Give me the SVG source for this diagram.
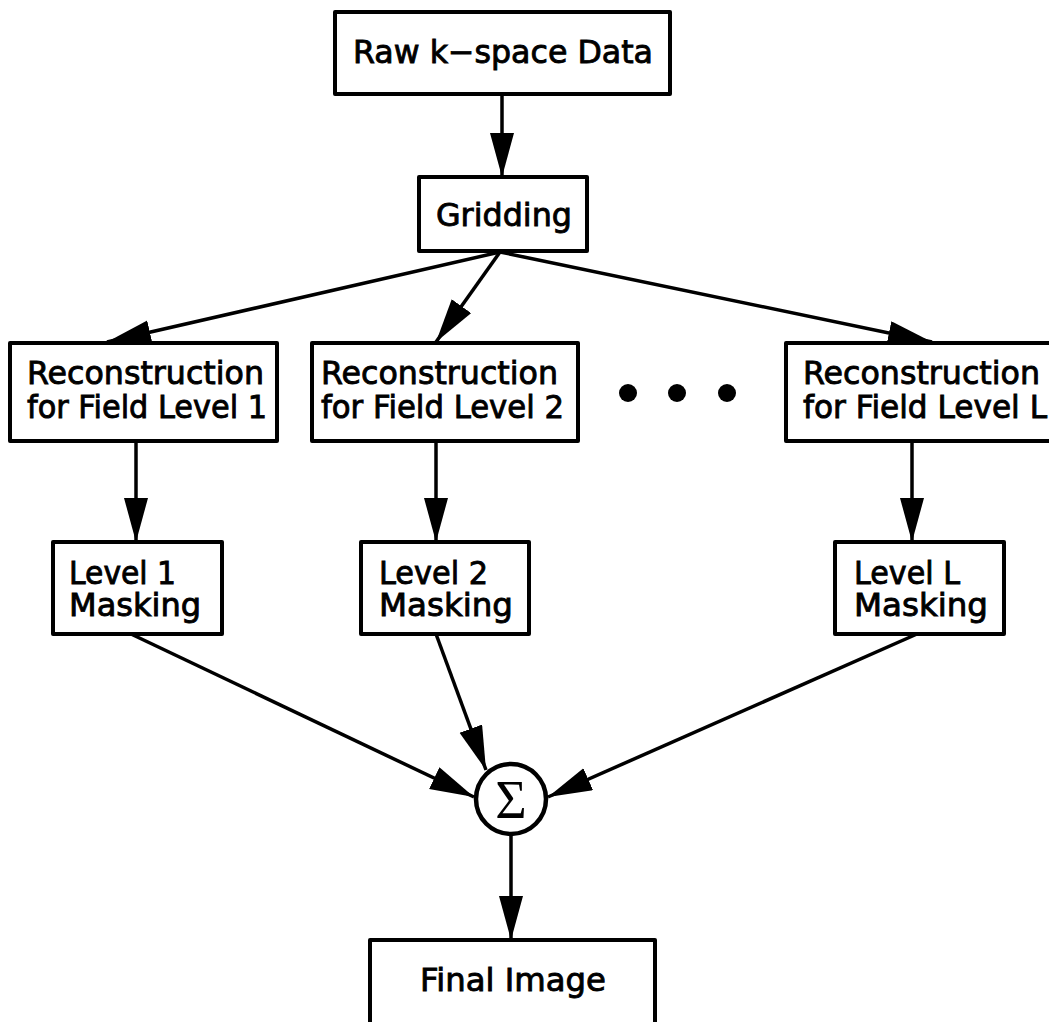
<svg xmlns="http://www.w3.org/2000/svg" width="1049" height="1022" viewBox="0 0 1049 1022">
<style>
.box{fill:#fff;stroke:#000;stroke-width:4;stroke-linejoin:round}
.t{font-family:"DejaVu Sans","Liberation Sans",sans-serif;font-size:32px;fill:#000;stroke:#000;stroke-width:0.9}
.c{text-anchor:middle}
.e{stroke:#000;stroke-width:3.5;fill:none}
</style>
<defs>
<marker id="ah" markerUnits="userSpaceOnUse" markerWidth="46" markerHeight="26" refX="44" refY="12" orient="auto">
<path d="M0,0 L44,12 L0,24 Z" fill="#000"/>
</marker>
</defs>
<g id="connectors">
<line class="e" x1="502" y1="94" x2="502" y2="177" marker-end="url(#ah)"/>
<line class="e" x1="500" y1="252" x2="107" y2="342" marker-end="url(#ah)"/>
<line class="e" x1="500" y1="252" x2="436" y2="342" marker-end="url(#ah)"/>
<line class="e" x1="500" y1="252" x2="932" y2="342" marker-end="url(#ah)"/>
<line class="e" x1="136" y1="442" x2="136" y2="542" marker-end="url(#ah)"/>
<line class="e" x1="436" y1="442" x2="436" y2="542" marker-end="url(#ah)"/>
<line class="e" x1="912" y1="442" x2="912" y2="542" marker-end="url(#ah)"/>
<line class="e" x1="131" y1="634" x2="474" y2="797" marker-end="url(#ah)"/>
<line class="e" x1="436" y1="634" x2="486" y2="770" marker-end="url(#ah)"/>
<line class="e" x1="917" y1="634" x2="548" y2="797" marker-end="url(#ah)"/>
<line class="e" x1="511" y1="835" x2="511" y2="940" marker-end="url(#ah)"/>
</g>
<g id="raw">
<rect class="box" x="335" y="12" width="335" height="82"/>
<text class="t c" x="503" y="63" textLength="300" lengthAdjust="spacingAndGlyphs">Raw k−space Data</text>
</g>
<g id="gridding">
<rect class="box" x="419" y="177" width="168" height="74"/>
<text class="t c" x="504" y="226" textLength="136" lengthAdjust="spacingAndGlyphs">Gridding</text>
</g>
<g id="recon1">
<rect class="box" x="10" y="343" width="267" height="98"/>
<text class="t" x="27" y="384" textLength="237" lengthAdjust="spacingAndGlyphs">Reconstruction</text>
<text class="t" x="27" y="418" textLength="240" lengthAdjust="spacingAndGlyphs">for Field Level 1</text>
</g>
<g id="recon2">
<rect class="box" x="312" y="343" width="266" height="98"/>
<text class="t" x="321" y="384" textLength="237" lengthAdjust="spacingAndGlyphs">Reconstruction</text>
<text class="t" x="321" y="418" textLength="243" lengthAdjust="spacingAndGlyphs">for Field Level 2</text>
</g>
<g id="dots">
<circle cx="628" cy="393" r="9" fill="#000"/>
<circle cx="677" cy="393" r="9" fill="#000"/>
<circle cx="727" cy="393" r="9" fill="#000"/>
</g>
<g id="reconL">
<rect class="box" x="786" y="343" width="290" height="98"/>
<text class="t" x="803" y="384" textLength="237" lengthAdjust="spacingAndGlyphs">Reconstruction</text>
<text class="t" x="803" y="418" textLength="244" lengthAdjust="spacingAndGlyphs">for Field Level L</text>
</g>
<g id="mask1">
<rect class="box" x="53" y="542" width="169" height="92"/>
<text class="t" x="69" y="584" textLength="107" lengthAdjust="spacingAndGlyphs">Level 1</text>
<text class="t" x="69" y="616" textLength="132" lengthAdjust="spacingAndGlyphs">Masking</text>
</g>
<g id="mask2">
<rect class="box" x="361" y="542" width="168" height="92"/>
<text class="t" x="379" y="584" textLength="109" lengthAdjust="spacingAndGlyphs">Level 2</text>
<text class="t" x="379" y="616" textLength="134" lengthAdjust="spacingAndGlyphs">Masking</text>
</g>
<g id="maskL">
<rect class="box" x="835" y="542" width="169" height="92"/>
<text class="t" x="854" y="584" textLength="106" lengthAdjust="spacingAndGlyphs">Level L</text>
<text class="t" x="854" y="616" textLength="134" lengthAdjust="spacingAndGlyphs">Masking</text>
</g>
<g id="sum">
<circle cx="511" cy="799" r="35" fill="#fff" stroke="#000" stroke-width="4.5"/>
<text x="511" y="818" text-anchor="middle" font-family="Liberation Serif,serif" font-size="54">Σ</text>
</g>
<g id="final">
<rect class="box" x="370" y="940" width="285" height="100"/>
<text class="t c" x="513" y="991" textLength="186" lengthAdjust="spacingAndGlyphs">Final Image</text>
</g>
</svg>
